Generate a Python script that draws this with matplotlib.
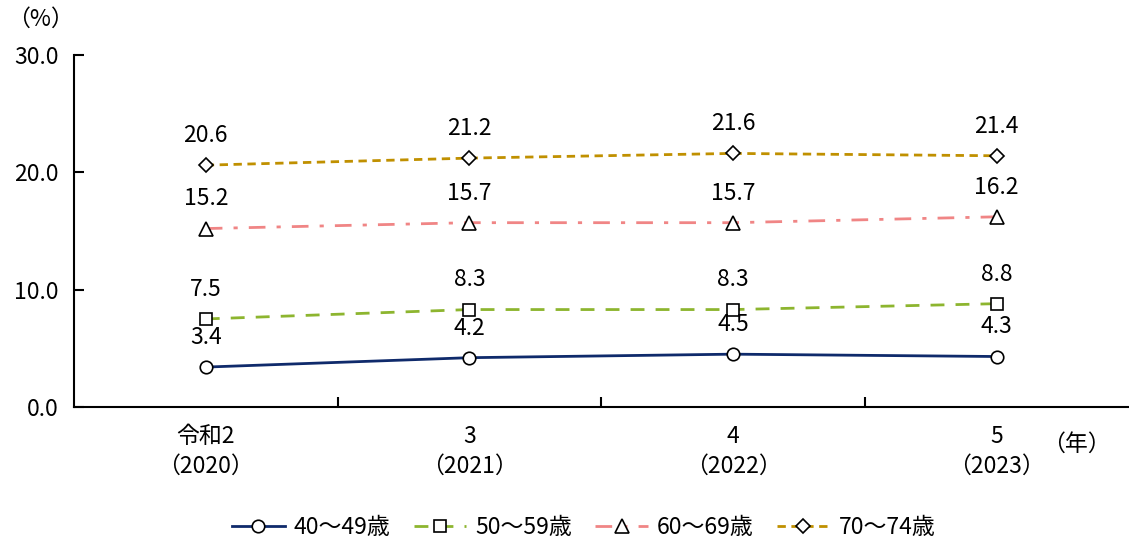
import matplotlib.pyplot as plt
import numpy as np

plt.rcParams['font.family'] = ['Noto Sans CJK JP', 'DejaVu Sans']

years = ['令和2\n（2020）', '3\n（2021）', '4\n（2022）', '5\n（2023）']
age_40_49 = [3.4, 4.2, 4.5, 4.3]
age_50_59 = [7.5, 8.3, 8.3, 8.8]
age_60_69 = [15.2, 15.7, 15.7, 16.2]
age_70_74 = [20.6, 21.2, 21.6, 21.4]
names = ['40～49歳', '50～59歳', '60～69歳', '70～74歳']

fs = 16.5

fig = plt.figure(figsize=(11.29, 5.41), dpi=100)
ax = fig.add_axes([0.0655, 0.2477, 0.934, 0.651])

x = np.arange(len(years))
ax.plot(x, age_40_49, color='#0f2a6b', lw=2, ls='-', marker='o', ms=9,
        mfc='white', mec='black', mew=1.2, label=names[0])
ax.plot(x, age_50_59, color='#8db52f', lw=2, ls=(0, (5, 4)), marker='s', ms=8.5,
        mfc='white', mec='black', mew=1.2, label=names[1])
ax.plot(x, age_60_69, color='#f08585', lw=2, ls=(0, (6, 4, 1.5, 4)), marker='^', ms=10,
        mfc='white', mec='black', mew=1.2, label=names[2])
ax.plot(x, age_70_74, color='#c09000', lw=2, ls=(0, (3, 2)), marker='D', ms=7,
        mfc='white', mec='black', mew=1.2, label=names[3])

for s in [age_40_49, age_50_59, age_60_69, age_70_74]:
    for i, v in enumerate(s):
        ax.annotate(f'{v:.1f}', (x[i], v), xytext=(0, 13), textcoords='offset points',
                    ha='center', va='bottom', fontsize=fs)

ax.set_xlim(-0.5, 3.5)
ax.set_ylim(0, 30)
ax.set_yticks([0, 10, 20, 30])
ax.set_yticklabels(['0.0', '10.0', '20.0', '30.0'], fontsize=fs)
ax.set_xticks([0.5, 1.5, 2.5])
ax.set_xticklabels([])
ax.set_xticks(x, minor=True)
ax.set_xticklabels(years, minor=True, fontsize=fs, linespacing=1.35)
ax.tick_params(axis='x', which='minor', length=0, pad=13)
ax.tick_params(axis='x', which='major', direction='in', length=7, width=1.5)
ax.tick_params(axis='y', direction='in', length=7, width=1.5, pad=11)
for sp in ['top', 'right']:
    ax.spines[sp].set_visible(False)
for sp in ['left', 'bottom']:
    ax.spines[sp].set_linewidth(1.5)

fig.text(0.036, 0.965, '（%）', fontsize=fs, ha='center', va='center')
fig.text(0.953, 0.178, '（年）', fontsize=fs, ha='center', va='center')

fig.legend(loc='center', bbox_to_anchor=(0.517, 0.025), ncol=4, frameon=False,
           fontsize=fs, handlelength=2.3, columnspacing=1.0, handletextpad=0.4)

fig.savefig('out.png', dpi=100)
